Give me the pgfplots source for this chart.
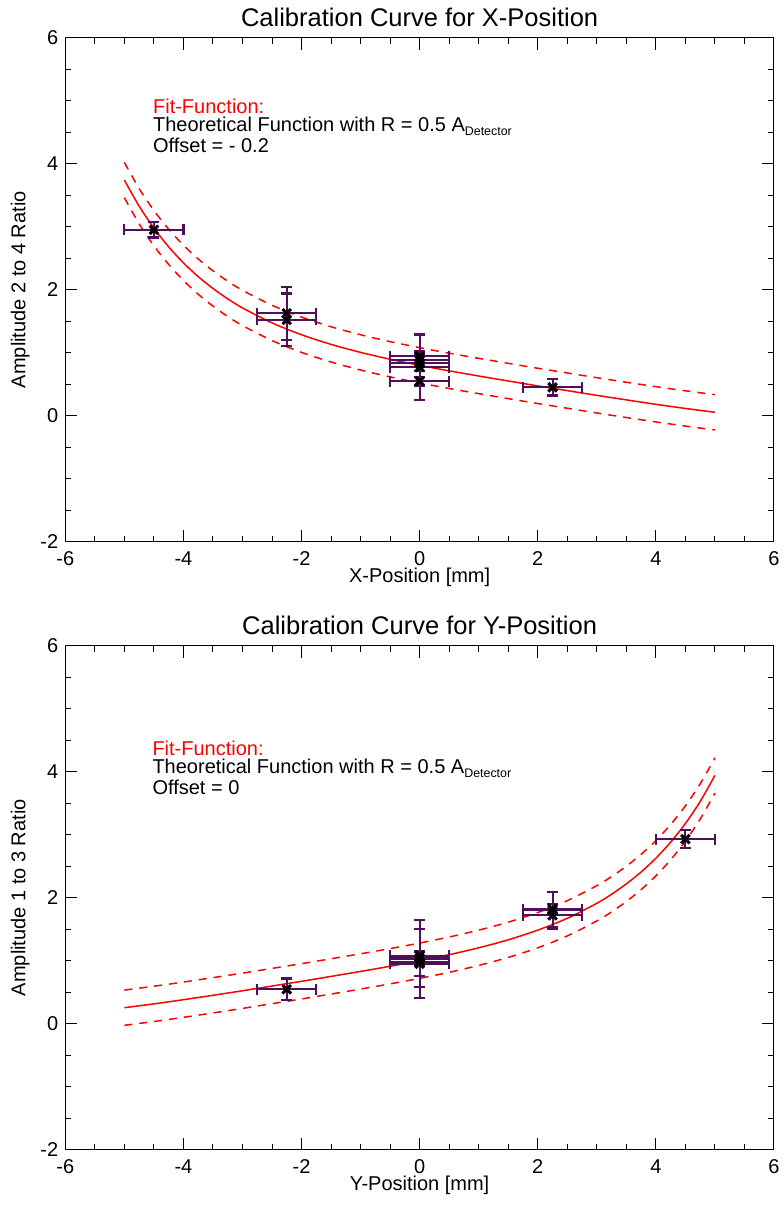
\documentclass[border=0pt]{standalone}
\usepackage{fontspec}
\setmainfont{Liberation Sans}
\usepackage{pgfplots}
\pgfplotsset{compat=1.18}
\definecolor{errc}{RGB}{80,15,90}
\definecolor{fitred}{RGB}{255,0,0}
\pgfplotsset{calib/.style={
  scale only axis, width=354.35pt, height=252pt,
  xmin=-6,xmax=6,ymin=-2,ymax=6,
  xtick={-6,-4,-2,0,2,4,6}, ytick={-2,0,2,4,6},
  xticklabels={-6,-4,-2,0,2,4,6}, yticklabels={-2,0,2,4,6},
  minor x tick num=3, minor y tick num=3,
  tick align=inside, major tick length=6pt, minor tick length=3pt,
  tick style={black, line width=0.5pt},
  axis line style={line width=0.5pt},
  tick label style={font=\fontsize{10}{12}\selectfont},
  label style={font=\fontsize{10}{12}\selectfont},
  title style={font=\fontsize{12.75}{14}\selectfont, at={(axis description cs:0.5,1.0397)}, anchor=center, yshift=0pt},
  every axis title shift=0pt,
  xlabel style={at={(axis description cs:0.5,-0.0714)}, anchor=center},
  ylabel style={at={(axis description cs:-0.0635,0.5)}, anchor=center},
  xticklabel style={yshift=-1.5pt},
  clip=false,
},
fitsolid/.style={fitred, line width=0.75pt, smooth},
fitdash/.style={fitred, line width=0.75pt, smooth, dash pattern=on 4pt off 3.5pt},
pts/.style={only marks, mark=x, mark size=3pt, mark options={black, line width=1.5pt},
  error bars/.cd, x dir=both, x explicit, y dir=both, y explicit,
  error bar style={errc, line width=1pt},
  error mark options={rotate=90, errc, line width=1.1pt, mark size=2.75pt}},
}
\pgfplotstableread{
x y ex ey
-4.5 2.95 0.5 0.12
-2.25 1.625 0.5 0.42
-2.25 1.52 0.5 0.42
0 0.94 0.5 0.08
0 0.88 0.5 0.10
0 0.83 0.5 0.12
0 0.77 0.5 0.52
0 0.55 0.5 0.07
2.25 0.45 0.5 0.13
}\topdata
\pgfplotstableread{
x y ex ey
-2.25 0.546 0.5 0.17
0 1.03 0.5 0.62
0 1.04 0.5 0.46
0 0.95 0.5 0.19
0 1.08 0.5 0.08
0 0.98 0.5 0.06
2.25 1.80 0.5 0.29
2.25 1.72 0.5 0.18
2.25 1.82 0.5 0.08
4.5 2.93 0.5 0.14
}\botdata
\begin{document}
\begin{tikzpicture}
\begin{axis}[calib, at={(32.65pt,331.65pt)}, anchor=south west,
  title={Calibration Curve for X-Position},
  xlabel={X-Position [mm]}, ylabel={Amplitude 2 to 4 Ratio}]
\addplot[fitsolid] coordinates {(-5,3.741)(-4.75,3.327)(-4.5,2.978)(-4.25,2.681)(-4,2.427)(-3.75,2.208)(-3.5,2.020)(-3.25,1.855)(-3,1.711)(-2.5,1.473)(-2,1.285)(-1.5,1.132)(-1,1.005)(-0.5,0.896)(0,0.800)(0.5,0.712)(1,0.630)(1.5,0.551)(2,0.473)(2.5,0.398)(3,0.323)(3.5,0.251)(4,0.181)(4.5,0.115)(5,0.054)};
\addplot[fitdash] coordinates {(-5,4.021)(-4.75,3.607)(-4.5,3.258)(-4.25,2.961)(-4,2.707)(-3.75,2.488)(-3.5,2.300)(-3.25,2.135)(-3,1.991)(-2.5,1.753)(-2,1.565)(-1.5,1.412)(-1,1.285)(-0.5,1.176)(0,1.080)(0.5,0.992)(1,0.910)(1.5,0.831)(2,0.753)(2.5,0.678)(3,0.603)(3.5,0.531)(4,0.461)(4.5,0.395)(5,0.334)};
\addplot[fitdash] coordinates {(-5,3.461)(-4.75,3.047)(-4.5,2.698)(-4.25,2.401)(-4,2.147)(-3.75,1.928)(-3.5,1.740)(-3.25,1.575)(-3,1.431)(-2.5,1.193)(-2,1.005)(-1.5,0.852)(-1,0.725)(-0.5,0.616)(0,0.520)(0.5,0.432)(1,0.350)(1.5,0.271)(2,0.193)(2.5,0.118)(3,0.043)(3.5,-0.029)(4,-0.099)(4.5,-0.165)(5,-0.226)};
\addplot[pts] table[x=x,y=y,x error=ex,y error=ey] {\topdata};
\node[anchor=north west, inner sep=0pt, align=left, font=\fontsize{10}{9.2}\selectfont] at (axis cs:-4.52,5.04)
  {\textcolor{fitred}{Fit-Function:}\\Theoretical Function with R = 0.5 A\raisebox{-2pt}{\fontsize{6.2}{6.2}\selectfont Detector}\\Offset = - 0.2};
\end{axis}
\begin{axis}[calib, at={(32.65pt,27.65pt)}, anchor=south west,
  title={Calibration Curve for Y-Position},
  xlabel={Y-Position [mm]}, ylabel={Amplitude 1 to 3 Ratio}]
\addplot[fitsolid] coordinates {(-5,0.254)(-4.5,0.315)(-4,0.381)(-3.5,0.451)(-3,0.523)(-2.5,0.598)(-2,0.673)(-1.5,0.751)(-1,0.830)(-0.5,0.912)(0,1.000)(0.5,1.096)(1,1.205)(1.5,1.332)(2,1.485)(2.5,1.673)(3,1.911)(3.25,2.055)(3.5,2.220)(3.75,2.408)(4,2.627)(4.25,2.881)(4.5,3.178)(4.75,3.527)(5,3.941)};
\addplot[fitdash] coordinates {(-5,0.534)(-4.5,0.595)(-4,0.661)(-3.5,0.731)(-3,0.803)(-2.5,0.878)(-2,0.953)(-1.5,1.031)(-1,1.110)(-0.5,1.192)(0,1.280)(0.5,1.376)(1,1.485)(1.5,1.612)(2,1.765)(2.5,1.953)(3,2.191)(3.25,2.335)(3.5,2.500)(3.75,2.688)(4,2.907)(4.25,3.161)(4.5,3.458)(4.75,3.807)(5,4.221)};
\addplot[fitdash] coordinates {(-5,-0.026)(-4.5,0.035)(-4,0.101)(-3.5,0.171)(-3,0.243)(-2.5,0.318)(-2,0.393)(-1.5,0.471)(-1,0.550)(-0.5,0.632)(0,0.720)(0.5,0.816)(1,0.925)(1.5,1.052)(2,1.205)(2.5,1.393)(3,1.631)(3.25,1.775)(3.5,1.940)(3.75,2.128)(4,2.347)(4.25,2.601)(4.5,2.898)(4.75,3.247)(5,3.661)};
\addplot[pts] table[x=x,y=y,x error=ex,y error=ey] {\botdata};
\node[anchor=north west, inner sep=0pt, align=left, font=\fontsize{10}{9.2}\selectfont] at (axis cs:-4.53,4.50)
  {\textcolor{fitred}{Fit-Function:}\\Theoretical Function with R = 0.5 A\raisebox{-2pt}{\fontsize{6.2}{6.2}\selectfont Detector}\\Offset = 0};
\end{axis}
\pgfresetboundingbox
\path[use as bounding box] (0,0) rectangle (391.5pt,602.5pt);
\end{tikzpicture}
\end{document}
